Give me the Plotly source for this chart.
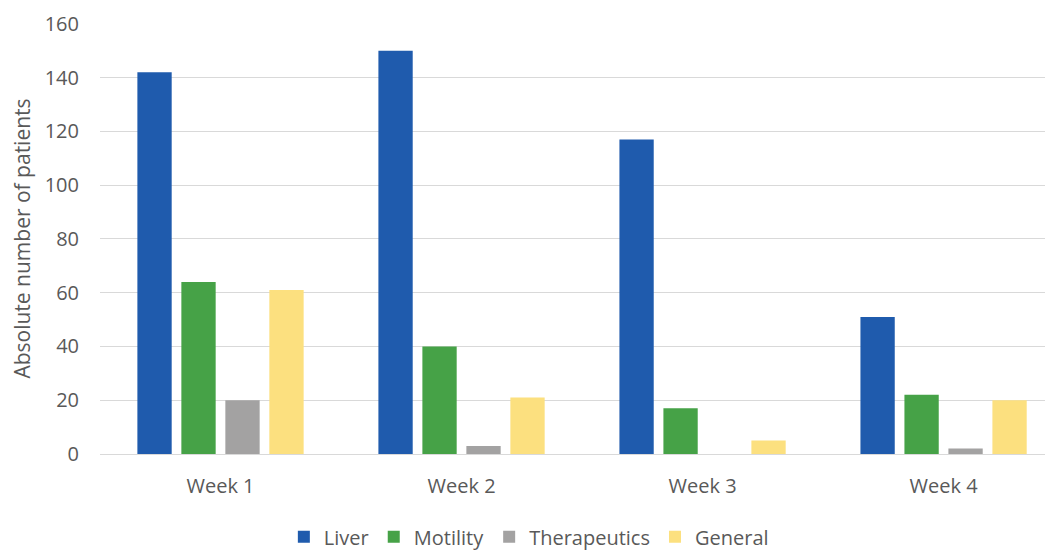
import plotly.graph_objects as go

weeks = ["Week 1", "Week 2", "Week 3", "Week 4"]
liver = [142, 150, 117, 51]
motility = [64, 40, 17, 22]
therapeutics = [20, 3, 0, 2]
general = [61, 21, 5, 20]

series = [
    ("Liver", liver, "#1F5BAD"),
    ("Motility", motility, "#46A247"),
    ("Therapeutics", therapeutics, "#A3A2A2"),
    ("General", general, "#FCE07F"),
]

fig = go.Figure()
for name, vals, col in series:
    fig.add_trace(go.Bar(x=weeks, y=vals, name=name, marker=dict(color=col, line=dict(width=0))))

font = "Open Sans, Noto Sans, sans-serif"
fig.update_layout(
    width=1045, height=542,
    margin=dict(l=92, r=0, t=15, b=96, autoexpand=False),
    paper_bgcolor="white", plot_bgcolor="white",
    barmode="group", bargap=0.27, bargroupgap=0.22,
    font=dict(family=font, size=20, color="#595959"),
    showlegend=True,
    legend=dict(orientation="h", x=0.45, xanchor="center", y=-0.192, yanchor="middle",
                font=dict(size=20, color="#595959"), itemwidth=30, traceorder="normal"),
    xaxis=dict(range=[-0.5, 3.454], showgrid=False, showline=False, ticks="",
               ticklabelstandoff=18,
               tickfont=dict(size=20, color="#595959")),
    yaxis=dict(range=[0, 160.3], tick0=0, dtick=20, showgrid=True, gridcolor="#D9D9D9", gridwidth=1,
               zeroline=True, zerolinecolor="#D9D9D9", zerolinewidth=1,
               showline=False, ticks="", ticklabelstandoff=20, ticklabeloverflow="allow",
               tickfont=dict(size=20, color="#595959"),
               title=dict(text="Absolute number of patients", font=dict(size=21, color="#595959"), standoff=8)),
)
fig.write_html("out.html")
